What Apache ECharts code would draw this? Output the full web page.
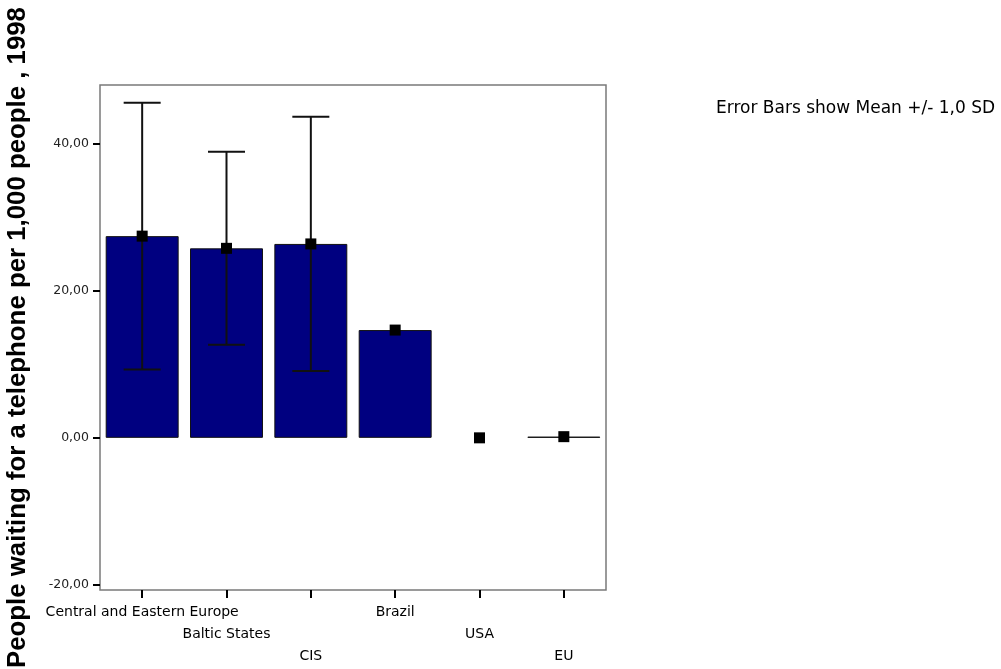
<!DOCTYPE html>
<html>
<head>
<meta charset="utf-8">
<script src="https://cdn.jsdelivr.net/npm/echarts@6/dist/echarts.min.js"></script>
<style>
  html, body { margin: 0; padding: 0; background: #ffffff; }
  #chart { width: 1001px; height: 669px; }
</style>
</head>
<body>
<div id="chart"></div>
<script>
// Regions compared
const regions = ['Central and Eastern Europe', 'Baltic States', 'CIS', 'Brazil', 'USA', 'EU'];
// Mean people waiting per 1,000 people (1998)
const means = [27.44, 25.78, 26.38, 14.66, 0.0, 0.16];
// Standard deviation for each group
const sds = [18.13, 13.13, 17.29, 0, 0, 0];
// Y-axis tick values
const yTicks = [-20, 0, 20, 40];

const fmt = v => v.toFixed(2).replace('.', ',');
const labelFont = 'DejaVu Sans, Liberation Sans, Arial, sans-serif';

const chart = echarts.init(document.getElementById('chart'), null, { renderer: 'canvas' });

chart.setOption({
  animation: false,
  backgroundColor: '#ffffff',
  title: {
    text: 'Error Bars show Mean +/- 1,0 SD',
    left: 716,
    top: 100,
    padding: 0,
    textStyle: { fontFamily: labelFont, fontSize: 17, fontWeight: 'normal', color: '#000' }
  },
  grid: {
    left: 100, right: 395, top: 85, bottom: 79,
    outerBoundsMode: 'none',
    containLabel: false,
    show: true, borderColor: '#7a7a7a', borderWidth: 1.5, backgroundColor: '#ffffff'
  },
  xAxis: {
    type: 'category',
    data: regions,
    axisLine: { show: false, onZero: false },
    axisTick: { show: true, alignWithLabel: true, length: 8, lineStyle: { color: '#000', width: 2 } },
    axisLabel: {
      interval: 0,
      margin: 11,
      verticalAlign: 'top',
      lineHeight: 22,
      fontFamily: labelFont,
      fontSize: 14,
      color: '#000',
      formatter: (val, idx) => '\n'.repeat(idx % 3) + val
    },
    splitLine: { show: false }
  },
  yAxis: {
    type: 'value',
    min: -20.7,
    max: 48,
    name: 'People waiting for a telephone per 1,000 people , 1998',
    nameLocation: 'middle',
    nameGap: 69,
    nameRotate: 90,
    nameTextStyle: { fontFamily: 'Liberation Sans, Arial, sans-serif', fontWeight: 'bold', fontSize: 25.8, color: '#000' },
    axisLine: { show: false },
    splitLine: { show: false },
    axisTick: { show: true, length: 7, customValues: yTicks, lineStyle: { color: '#000', width: 2 } },
    axisLabel: {
      customValues: yTicks,
      margin: 11,
      fontFamily: labelFont,
      fontSize: 12.5,
      color: '#222',
      formatter: v => fmt(v)
    }
  },
  series: [
    {
      type: 'bar',
      barCategoryGap: '13.5%',
      data: means.map(v => ({
        value: v,
        itemStyle: v === 0 ? { borderWidth: 0 } : undefined
      })),
      itemStyle: { color: '#000080', borderColor: '#111', borderWidth: 1 },
      z: 1
    },
    {
      type: 'custom',
      data: means.map((m, i) => [i, m, sds[i]]),
      renderItem: (params, api) => {
        const i = api.value(0), m = api.value(1), sd = api.value(2);
        if (!sd) return null;
        const hi = api.coord([i, m + sd]);
        const lo = api.coord([i, m - sd]);
        const half = 18.5;
        const style = { stroke: '#111', lineWidth: 2 };
        return {
          type: 'group',
          children: [
            { type: 'line', shape: { x1: hi[0], y1: hi[1], x2: lo[0], y2: lo[1] }, style },
            { type: 'line', shape: { x1: hi[0] - half, y1: hi[1], x2: hi[0] + half, y2: hi[1] }, style },
            { type: 'line', shape: { x1: lo[0] - half, y1: lo[1], x2: lo[0] + half, y2: lo[1] }, style }
          ]
        };
      },
      z: 2
    },
    {
      type: 'scatter',
      symbol: 'rect',
      symbolSize: 11,
      data: means,
      itemStyle: { color: '#000', opacity: 1 },
      z: 3
    }
  ]
});
</script>
</body>
</html>
